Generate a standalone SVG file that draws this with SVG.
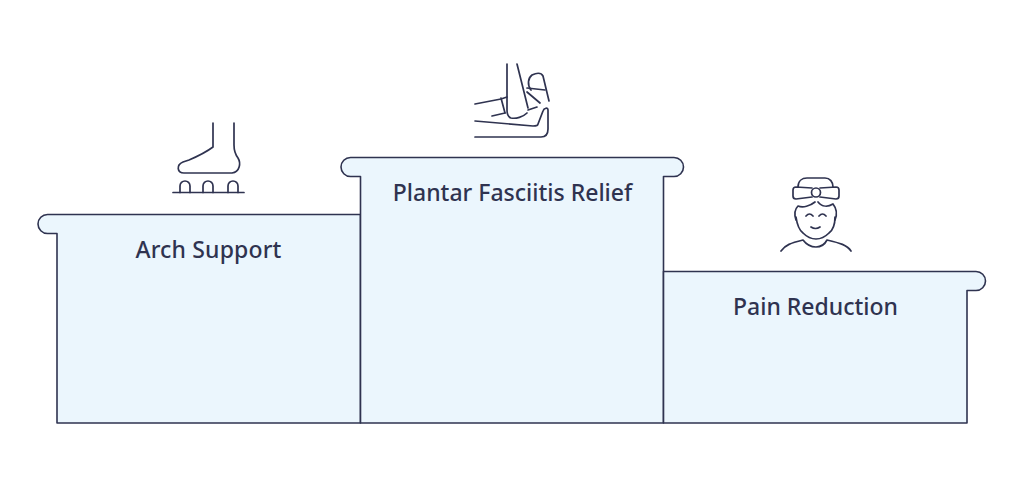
<svg xmlns="http://www.w3.org/2000/svg" width="1024" height="499" viewBox="0 0 1024 499">
<style>
.box{fill:#ebf6fd;stroke:#2f3350;stroke-width:1.6;stroke-linejoin:round}
.icon{fill:none;stroke:#2f3350;stroke-width:1.7;stroke-linecap:round;stroke-linejoin:round}
.label{font-family:"Noto Sans","Open Sans",sans-serif;font-size:23px;font-weight:500;fill:#2f3350;text-anchor:middle}
</style>
<rect width="1024" height="499" fill="#ffffff"/>
<g id="node-arch-support">
<path class="box" d="M360.500 214.500H47.500a9.500 9.500 0 0 0 0 19H57V423H360.500Z"/>
<text class="label" x="208.500" y="258" letter-spacing="0.150">Arch Support</text>
<g class="icon">
<path d="M213 123V147C205 153 196 157 189 160L183 162C176 165 177 173 184 173H232C240 172 241 163 238 158C235 154 234 151 234 145V123"/>
<path d="M173 192.500H244"/>
<path d="M180 192.500V186a5 5 0 0 1 10 0V192.500M203 192.500V186a5 5 0 0 1 10 0V192.500M228 192.500V186a5 5 0 0 1 10 0V192.500"/>
</g>
</g>
<g id="node-plantar-fasciitis-relief">
<path class="box" d="M663.500 423V176.500H674a9.500 9.500 0 0 0 0 -19H350.500a9.500 9.500 0 0 0 0 19H360.500V423Z"/>
<text class="label" x="512.500" y="201">Plantar Fasciitis Relief</text>
<g class="icon">
<path d="M507 64V110C507 115 508 117 511 118C516 119 523 117 527 113"/>
<path d="M517 64L528 108"/>
<path d="M528 110L537 107"/>
<path d="M475 104L501 99L507 97"/>
<path d="M501 98L505 113"/>
<path d="M492 116L505 113"/>
<path d="M531 90C527 85 528 78 532 75C536 73 541 72 543 76L549 101"/>
<path d="M527 88L545 90"/>
<path d="M527 92L540 103"/>
<path d="M475 121L533 126C536 126 538 126 538 124L543 111C544 108 548 107 548 110V129C548 134 546 137 541 137H475"/>
</g>
</g>
<g id="node-pain-reduction">
<path class="box" d="M663.500 271.500H976a9.500 9.500 0 0 1 0 19H967V423H663.500Z"/>
<text class="label" x="815.500" y="315">Pain Reduction</text>
<g class="icon">
<path d="M798 187C798 181 802 178 807 178H825C830 178 833 182 833 187"/>
<path d="M812 188L796 187C794 187 793 188 793 190V196C793 198 794 199 796 199L812 197"/>
<path d="M820 188L836 187C838 187 839 188 839 190V196C839 198 838 199 836 199L820 197"/>
<circle cx="816" cy="192.500" r="4.500"/>
<path d="M796 220C794 214 795 209 798 206C803 208 810 206 815 202"/>
<path d="M818 202C822 207 828 207 833 204C837 209 837 215 835 220"/>
<path d="M796 217C797 224 799 230 803 233C807 237 810 239 816 239C822 239 825 237 829 233C833 230 835 224 835 217"/>
<path d="M806 216Q809.500 212 813 216M819 216Q822.500 212 826 216"/>
<path d="M811 227Q815.500 230 820 227"/>
<path d="M781 251C785 245 791 243 803 240C806 244 810 247 816 247C822 247 825 244 827 240C840 243 847 245 851 251"/>
</g>
</g>
</svg>
